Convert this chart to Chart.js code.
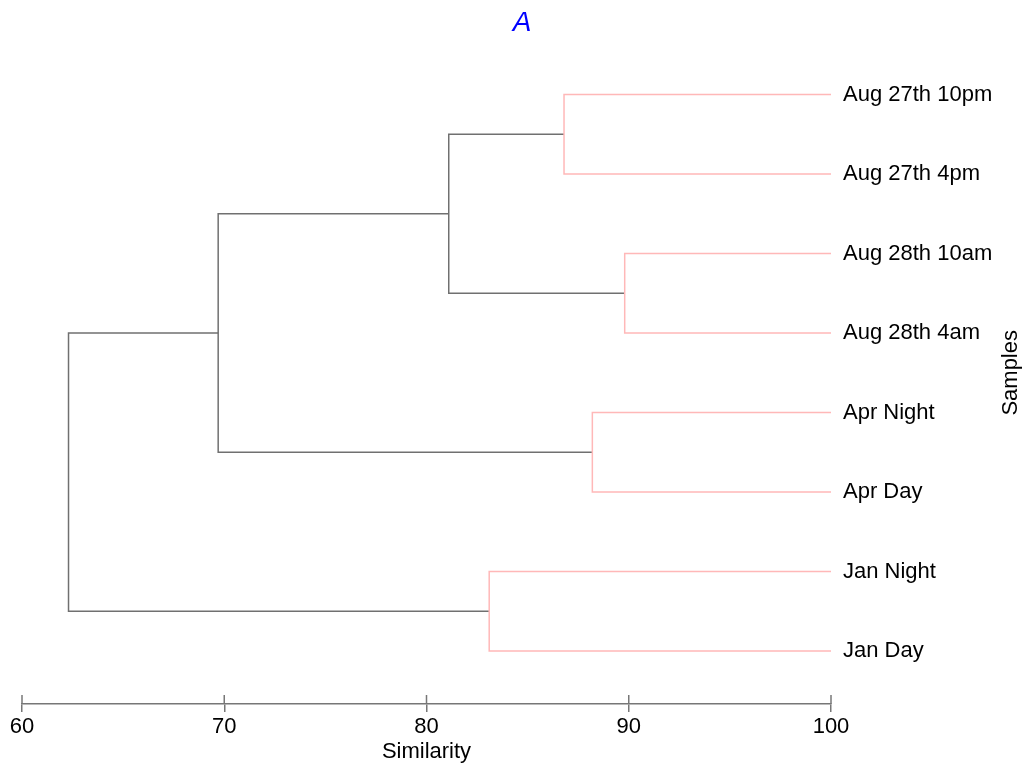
<!DOCTYPE html>
<html>
<head>
<meta charset="utf-8">
<script src="https://cdn.jsdelivr.net/npm/chart.js@4/dist/chart.umd.min.js"></script>
<style>
  body { margin: 0; background: #fff; }
</style>
</head>
<body>
<canvas id="dendro" width="1022" height="766"></canvas>
<script>
// leaves, top to bottom
var leafLabels = ["Aug 27th 10pm", "Aug 27th 4pm", "Aug 28th 10am", "Aug 28th 4am",
	"Apr Night", "Apr Day", "Jan Night", "Jan Day"];
// merges: ids 0-7 are leaves, merge k gets id 8+k
var mergeA = [0, 2, 4, 6, 8, 12, 13];
var mergeB = [1, 3, 5, 7, 9, 10, 11];
var mergeSim = [86.8, 89.8, 88.2, 83.1, 81.1, 69.7, 62.3];
var xTicks = [60, 70, 80, 90, 100];
var colorCut = 82;

var FONT = "'Liberation Sans', Arial, sans-serif";

// position (y index) and height (similarity) of every node
var nodeY = leafLabels.map(function (l, i) { return i; });
var nodeX = leafLabels.map(function () { return 100; });
var datasets = [];
mergeSim.forEach(function (s, k) {
	var a = mergeA[k], b = mergeB[k];
	nodeY.push((nodeY[a] + nodeY[b]) / 2);
	nodeX.push(s);
	datasets.push({
		data: [
			{ x: nodeX[a], y: nodeY[a] },
			{ x: s, y: nodeY[a] },
			{ x: s, y: nodeY[b] },
			{ x: nodeX[b], y: nodeY[b] }
		],
		showLine: true,
		borderColor: s > colorCut ? "#ffb8b8" : "#707070",
		borderWidth: 1.5,
		pointRadius: 0,
		tension: 0
	});
});

var extras = {
	id: "extras",
	afterDraw: function (chart) {
		var ctx = chart.ctx, xs = chart.scales.x, area = chart.chartArea;
		ctx.save();
		// upper half of x tick marks
		ctx.strokeStyle = "#777";
		ctx.lineWidth = 1.5;
		xTicks.forEach(function (v) {
			var px = xs.getPixelForValue(v);
			ctx.beginPath();
			ctx.moveTo(px, area.bottom - 9);
			ctx.lineTo(px, area.bottom);
			ctx.stroke();
		});
		// right side title
		ctx.fillStyle = "#000";
		ctx.font = "22px " + FONT;
		ctx.textAlign = "center";
		ctx.textBaseline = "middle";
		ctx.translate(1011, (area.top + area.bottom) / 2);
		ctx.rotate(-Math.PI / 2);
		ctx.fillText("Samples", 0, 0);
		ctx.restore();
	}
};

new Chart(document.getElementById("dendro"), {
	type: "scatter",
	data: { datasets: datasets },
	plugins: [extras],
	options: {
		responsive: false,
		animation: false,
		layout: { padding: { left: 22, right: 0, top: 0, bottom: 0 } },
		plugins: {
			legend: { display: false },
			tooltip: { enabled: false },
			title: {
				display: true,
				text: "A",
				color: "#0000ff",
				font: { family: FONT, size: 28, style: "italic", weight: "normal" },
				padding: { top: 6, bottom: 2 }
			}
		},
		scales: {
			x: {
				type: "linear",
				min: 60,
				max: 100,
				afterBuildTicks: function (scale) {
					scale.ticks = xTicks.map(function (v) { return { value: v }; });
				},
				afterFit: function (scale) { scale.height = 62; },
				border: { display: true, color: "#777", width: 1.5 },
				grid: { display: true, drawOnChartArea: false, drawTicks: true, tickLength: 8, color: "#777", lineWidth: 1.5 },
				ticks: { color: "#000", font: { family: FONT, size: 22 }, padding: 2, maxRotation: 0 },
				title: {
					display: true,
					text: "Similarity",
					color: "#000",
					font: { family: FONT, size: 22 },
					padding: { top: 0, bottom: 1 }
				}
			},
			y: {
				type: "linear",
				position: "right",
				reverse: true,
				min: -0.667,
				max: 7.667,
				afterBuildTicks: function (scale) {
					scale.ticks = leafLabels.map(function (l, i) { return { value: i }; });
				},
				afterFit: function (scale) { scale.width = 191; },
				border: { display: false },
				grid: { display: false, drawTicks: false },
				ticks: {
					color: "#000",
					font: { family: FONT, size: 22 },
					padding: 12,
					callback: function (v) { return leafLabels[v]; }
				}
			}
		}
	}
});
</script>
</body>
</html>
